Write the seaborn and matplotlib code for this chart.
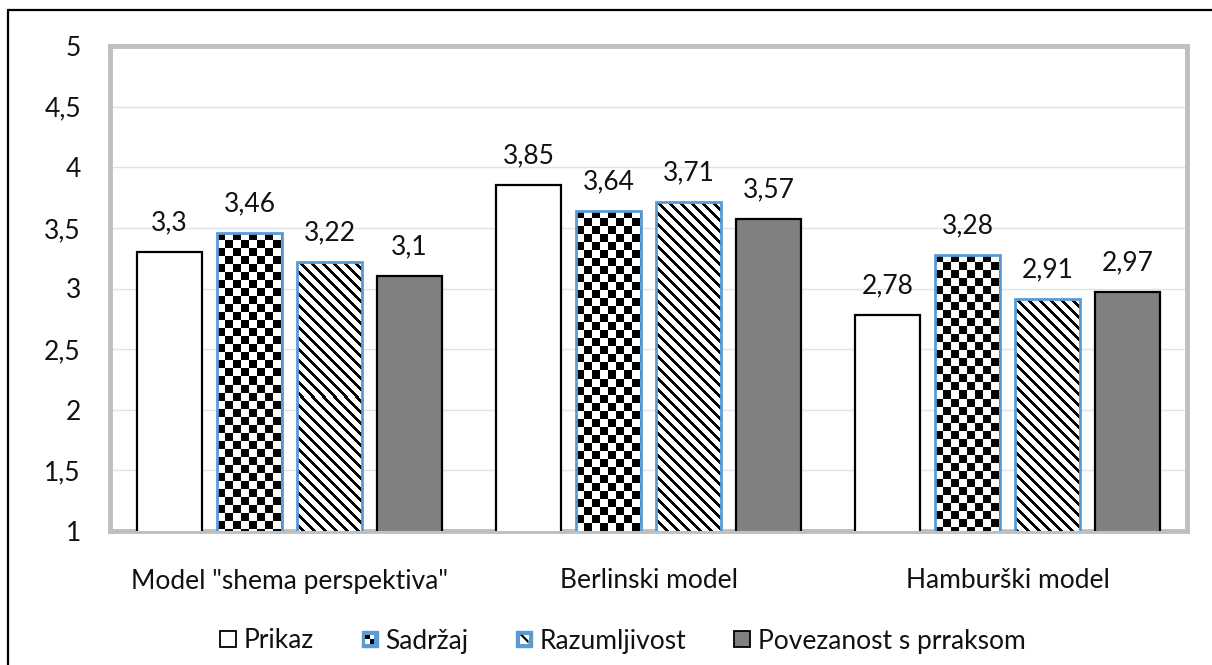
import numpy as np
import pandas as pd
import matplotlib
matplotlib.use("Agg")
import matplotlib.pyplot as plt
import seaborn as sns
from matplotlib.lines import Line2D
from matplotlib.patches import Rectangle, Patch, Polygon
from matplotlib.legend_handler import HandlerBase

# ---- data ----
categories = ['Model "shema perspektiva"', 'Berlinski model', 'Hamburški model']
series = ['Prikaz', 'Sadržaj', 'Razumljivost', 'Povezanost s prraksom']
prikaz = [3.3, 3.85, 2.78]
sadrzaj = [3.46, 3.64, 3.28]
razumljivost = [3.22, 3.71, 2.91]
povezanost = [3.1, 3.57, 2.97]
y_ticks = [1, 1.5, 2, 2.5, 3, 3.5, 4, 4.5, 5]

values = [prikaz, sadrzaj, razumljivost, povezanost]
df = pd.DataFrame({
    "model": np.repeat([categories], len(series), axis=0).ravel(),
    "kriterij": np.repeat(series, len(categories)),
    "ocjena": np.concatenate(values),
})

sns.set_theme(style="white")
plt.rcParams["font.family"] = ["Lato", "DejaVu Sans"]

FS = 19
BLUE = "#5B9BD5"
GRAY = "#808080"
FRAME = "#BFBFBF"
GRID = "#DCE3EE"
TXT = "#111111"

fig = plt.figure(figsize=(12.12, 6.65), dpi=100)
ax = fig.add_axes([110 / 1212, 1 - 531 / 665, 1077 / 1212, 485 / 665])

sns.barplot(data=df, x="model", y="ocjena", hue="kriterij", order=categories,
            hue_order=series, palette=["white"] * 4, width=0.89, gap=0.19,
            ax=ax, legend=False, zorder=3)

ax.set_xlim(-0.5, 2.5)
ax.set_ylim(1, 5)
ax.set_yticks(y_ticks)
ax.set_yticklabels([f"{t:g}".replace(".", ",") for t in y_ticks])
ax.set_xlabel("")
ax.set_ylabel("")
ax.tick_params(axis="y", labelsize=FS, pad=21, length=0, labelcolor=TXT)
ax.tick_params(axis="x", labelsize=FS, pad=27, length=0, labelcolor=TXT)
ax.grid(axis="y", color=GRID, linewidth=1.0, zorder=0)
ax.set_axisbelow(True)
for sp in ax.spines.values():
    sp.set_color(FRAME)
    sp.set_linewidth(3.5)
    sp.set_visible(True)

styles = {
    "Prikaz": dict(face="white", edge="black", kind="plain"),
    "Sadržaj": dict(face="white", edge=BLUE, kind="checker"),
    "Razumljivost": dict(face="white", edge=BLUE, kind="stripe"),
    "Povezanost s prraksom": dict(face=GRAY, edge="black", kind="plain"),
}


def pattern_array(kind, w, h):
    rows, cols = np.mgrid[0:h, 0:w]
    if kind == "checker":
        cell = 8
        dark = ((rows // cell) + (cols // cell)) % 2 == 0
    else:
        period, thick = 11, 4
        dark = ((cols - rows) % period) < thick
    return np.where(dark, 0.0, 1.0)


bars = [p for p in ax.patches if isinstance(p, Rectangle)]
fig.canvas.draw()
for i, s in enumerate(series):
    st = styles[s]
    for j in range(len(categories)):
        bar = bars[i * len(categories) + j]
        val = values[i][j]
        bar.set_facecolor(st["face"])
        bar.set_edgecolor(st["edge"])
        bar.set_linewidth(2.0 if st["edge"] == BLUE else 1.6)
        x0 = bar.get_x()
        x1 = x0 + bar.get_width()
        if st["kind"] != "plain":
            (px0, py0), (px1, py1) = ax.transData.transform([(x0, 1), (x1, val)])
            w = max(int(round(px1 - px0)), 1)
            h = max(int(round(py1 - py0)), 1)
            img = ax.imshow(pattern_array(st["kind"], w, h), cmap="gray",
                            vmin=0, vmax=1, extent=(x0, x1, 1, val),
                            origin="upper", aspect="auto",
                            interpolation="nearest", zorder=3.5)
            img.set_clip_path(bar)
            bar.set_zorder(4)
            bar.set_facecolor("none")
        label = f"{val:g}".replace(".", ",")
        ax.annotate(label, (bar.get_x() + bar.get_width() / 2, val),
                    xytext=(0, 12), textcoords="offset points",
                    ha="center", va="bottom", fontsize=FS, color=TXT)

ax.set_xlim(-0.5, 2.5)
ax.set_ylim(1, 5)


class SwatchHandler(HandlerBase):
    def __init__(self, kind, face, edge):
        super().__init__()
        self.kind, self.face, self.edge = kind, face, edge

    def create_artists(self, legend, orig_handle, xdescent, ydescent,
                       width, height, fontsize, trans):
        s = min(width, height * 1.15)
        x0 = -xdescent + (width - s) / 2
        y0 = -ydescent + (height - s) / 2
        arts = []
        if self.kind == "plain":
            arts.append(Rectangle((x0, y0), s, s, facecolor=self.face,
                                  edgecolor=self.edge, lw=1.3, transform=trans))
            return arts
        arts.append(Rectangle((x0, y0), s, s, facecolor=self.edge,
                              edgecolor=self.edge, lw=1.0, transform=trans))
        m = s * 0.22
        ix, iy, iw = x0 + m, y0 + m, s - 2 * m
        arts.append(Rectangle((ix, iy), iw, iw, facecolor="white",
                              edgecolor="none", transform=trans))
        if self.kind == "checker":
            h = iw / 2
            arts.append(Rectangle((ix, iy + h), h, h, facecolor="black",
                                  edgecolor="none", transform=trans))
            arts.append(Rectangle((ix + h, iy), h, h, facecolor="black",
                                  edgecolor="none", transform=trans))
        else:
            t = iw * 0.35
            arts.append(Polygon([(ix, iy + iw), (ix + t, iy + iw),
                                 (ix + iw, iy + t), (ix + iw, iy)],
                                closed=True, facecolor="black",
                                edgecolor="none", transform=trans))
        return arts


handles = [Patch(label=s) for s in series]
handler_map = {h: SwatchHandler(styles[s]["kind"], styles[s]["face"], styles[s]["edge"])
               for h, s in zip(handles, series)}
fig.legend(handles=handles, labels=series, handler_map=handler_map,
           loc="center", bbox_to_anchor=(623 / 1212, 1 - 641 / 665), ncol=4,
           frameon=False, fontsize=FS, handlelength=0.6, handleheight=0.6,
           handletextpad=0.3, columnspacing=1.8, labelcolor=TXT)

# outer frame lines along the top and left edges of the figure
fig.add_artist(Line2D([8 / 1212, 1.0], [1 - 10 / 665] * 2, color="black",
                      lw=1.6, transform=fig.transFigure))
fig.add_artist(Line2D([8 / 1212] * 2, [0.0, 1 - 10 / 665], color="black",
                      lw=1.6, transform=fig.transFigure))

fig.savefig("out.png", dpi=100, facecolor="white")
